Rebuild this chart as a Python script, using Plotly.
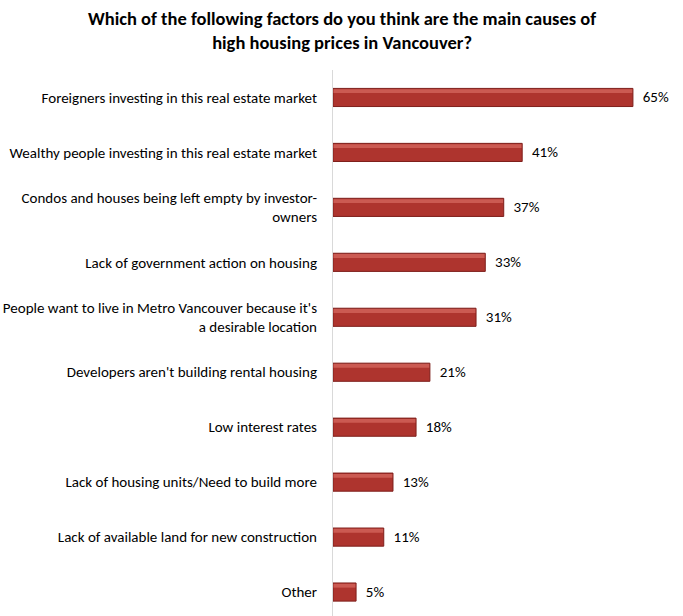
import plotly.graph_objects as go

categories = [
    "Foreigners investing in this real estate market",
    "Wealthy people investing in this real estate market",
    "Condos and houses being left empty by investor-<br>owners",
    "Lack of government action on housing",
    "People want to live in Metro Vancouver because it's<br>a desirable location",
    "Developers aren't building rental housing",
    "Low interest rates",
    "Lack of housing units/Need to build more",
    "Lack of available land for new construction",
    "Other",
]
values = [65, 41, 37, 33, 31, 21, 18, 13, 11, 5]
value_labels = [f"  {v}%" for v in values]
title_text = ("<b>Which of the following factors do you think are the main causes of"
              "<br>high housing prices in Vancouver?</b>")

FONT = "Calibri, Carlito, Lato, sans-serif"

fig = go.Figure()
fig.add_trace(go.Bar(
    y=categories,
    x=values,
    orientation="h",
    marker=dict(color="#AE342E", line=dict(color="#7E1F1B", width=1)),
    text=value_labels,
    textposition="outside",
    textfont=dict(family=FONT, size=15, color="#000000"),
    cliponaxis=False,
    width=0.33,
    offset=-0.165,
    hoverinfo="x+y",
))
# subtle highlight band along the top of each bar (bevel look)
fig.add_trace(go.Bar(
    y=categories,
    x=[v - 0.25 for v in values],
    base=0.1,
    orientation="h",
    marker=dict(color="#CB5A52", line=dict(width=0)),
    width=0.07,
    offset=-0.15,
    hoverinfo="skip",
))

fig.add_annotation(
    text=title_text, xref="paper", yref="paper",
    x=(341.5 - 333) / 323, y=(616 - 30.5) / 546,
    xanchor="center", yanchor="middle",
    showarrow=False, align="center",
    font=dict(family=FONT, size=18.5, color="#000000"),
)

fig.update_layout(
    width=683, height=616,
    margin=dict(l=333, r=27, t=70, b=0),
    paper_bgcolor="white", plot_bgcolor="white",
    showlegend=False, barmode="overlay",
    font=dict(family=FONT, size=15, color="#000000"),
)
fig.update_xaxes(range=[0, 70], visible=False)
fig.update_yaxes(
    categoryorder="array", categoryarray=categories,
    range=[9.436, -0.5],
    showline=True, linecolor="#D9D9D9", linewidth=1,
    ticks="", ticklabelstandoff=12, showgrid=False,
    tickfont=dict(family=FONT, size=15, color="#000000"),
)

fig.write_html("out.html")
